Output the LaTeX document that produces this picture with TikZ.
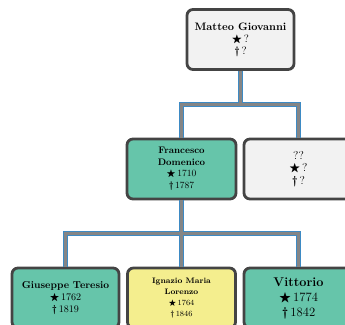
\documentclass[tikz,border=0pt]{standalone}
\usepackage{amssymb}
\usetikzlibrary{positioning}

\definecolor{boxgray}{HTML}{F2F2F2}
\definecolor{boxgreen}{HTML}{66C5AA}
\definecolor{boxyellow}{HTML}{F4EE8E}
\definecolor{boxline}{HTML}{444444}
\definecolor{edgeblue}{HTML}{3D8AC4}
\definecolor{edgegray}{HTML}{858585}

\newcommand{\born}{$\bigstar$}
\newcommand{\died}{\textbf{\dag}}

\tikzset{
  person/.style={draw=boxline, line width=2.8pt, rounded corners=6pt,
    minimum width=107pt, minimum height=60pt, align=center, inner sep=2pt},
  famedge/.style={draw=edgeblue, line width=0.9pt, double=edgegray,
    double distance=3pt},
}

\begin{document}
\begin{tikzpicture}[x=1pt, y=-1pt]
        \useasboundingbox (0,0) rectangle (345,324);
        % parents
        \node[person, fill=boxgray, font=\fontsize{10.8}{12}\selectfont] (matteo) at (240.5,39.5)
            {\textbf{Matteo Giovanni}\\ \born\,?\\ \died\,?};
        \node[person, fill=boxgreen, minimum width=109pt, font=\fontsize{9.5}{11.5}\selectfont] (fran) at (181.5,169)
            {\textbf{Francesco}\\ \textbf{Domenico}\\ \born\,1710\\ \died\,1787};
        \node[person, fill=boxgray, minimum width=109pt, font=\fontsize{11.5}{12.5}\selectfont] (unk) at (298.5,169)
            {??\\ \born\,?\\ \died\,?};
        % children
        \node[person, fill=boxgreen, font=\fontsize{10.1}{12}\selectfont] (gius) at (65.5,298)
            {\textbf{Giuseppe Teresio}\\ \born\,1762\\ \died\,1819};
        \node[person, fill=boxyellow, minimum width=108pt, font=\fontsize{7.9}{11}\selectfont] (ign) at (181.5,298)
            {\textbf{Ignazio Maria}\\ \textbf{Lorenzo}\\ \born\,1764\\ \died\,1846};
        \node[person, fill=boxgreen, minimum width=109pt, font=\fontsize{12.7}{15}\selectfont] (vitt) at (298.5,298)
            {\textbf{Vittorio}\\ \born\,1774\\ \died\,1842};
        % edges
        \draw[famedge] (matteo.south) -- ++(0,33.6) coordinate (j1) -| (fran.north)
            (j1) -| (unk.north);
        \draw[famedge] (fran.south) -- ++(0,33.1) coordinate (j2) -| (gius.north)
            (j2) -| (vitt.north) (j2) -- (ign.north);
\end{tikzpicture}
\end{document}
